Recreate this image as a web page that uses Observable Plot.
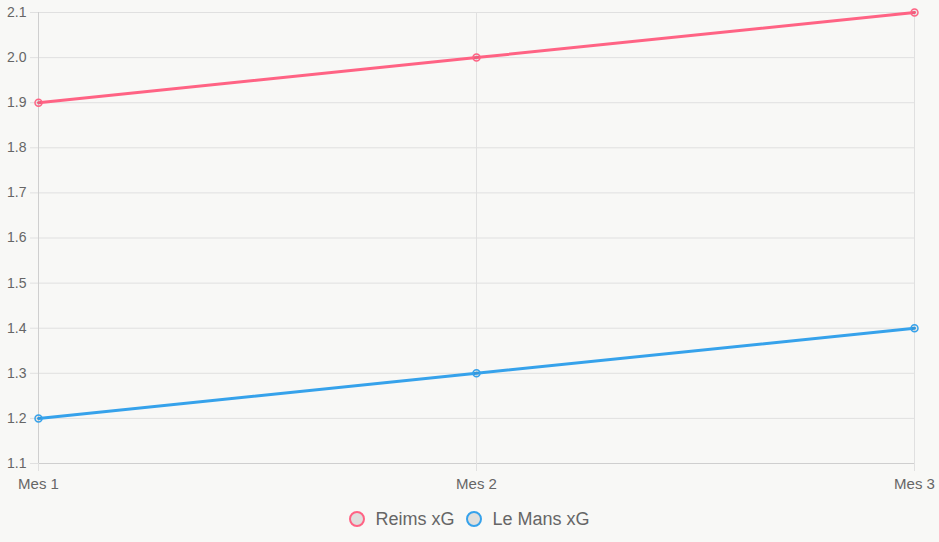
<!DOCTYPE html>
<html><head><meta charset="utf-8">
<script src="https://cdn.jsdelivr.net/npm/d3@7"></script>
<script src="https://cdn.jsdelivr.net/npm/@observablehq/plot@0.6"></script>
<style>
html,body{margin:0;padding:0;background:#f8f8f6;}
#chart svg{display:block;background:#f8f8f6;}
#chart svg text{font-family:"Liberation Sans",Arial,sans-serif;}
#legend{display:flex;justify-content:center;align-items:center;gap:12px;font-family:"Liberation Sans",Arial,sans-serif;font-size:18px;color:#666;height:30px;margin-top:9px;}
.item{display:flex;align-items:center;gap:10px;}
.sw{width:16px;height:16px;border-radius:50%;box-sizing:border-box;border:2px solid;}
</style></head>
<body>
<div id="chart"></div>
<div id="legend"></div>
<script>
const months = ["Mes 1", "Mes 2", "Mes 3"];
const reims = [1.9, 2.0, 2.1];
const leMans = [1.2, 1.3, 1.4];
const seriesNames = ["Reims xG", "Le Mans xG"];
const seriesColors = ["#ff6384", "#36a2eb"];
const yTicks = [1.1, 1.2, 1.3, 1.4, 1.5, 1.6, 1.7, 1.8, 1.9, 2.0, 2.1];

const data = [];
months.forEach((m, i) => {
  data.push({month: m, value: reims[i], series: seriesNames[0]});
  data.push({month: m, value: leMans[i], series: seriesNames[1]});
});

const chart = Plot.plot({
  width: 939,
  height: 495,
  marginLeft: 38,
  marginRight: 25,
  marginTop: 12,
  marginBottom: 32,
  style: {fontFamily: "'Liberation Sans', Arial, sans-serif", fontSize: "14px", color: "#666", background: "#f8f8f6"},
  x: {type: "point", domain: months, padding: 0, label: null},
  y: {domain: [1.1, 2.1], label: null},
  color: {domain: seriesNames, range: seriesColors},
  marks: [
    Plot.ruleY(yTicks, {stroke: "#e0e0e0", strokeWidth: 1}),
    Plot.ruleX(months, {stroke: "#e0e0e0", strokeWidth: 1}),
    Plot.ruleX([months[0]], {stroke: "#cfcfcf"}),
    Plot.ruleY([1.1], {stroke: "#cfcfcf"}),
    Plot.axisY({ticks: yTicks, tickFormat: d3.format(".1f"), tickSize: 8, tickPadding: 4, stroke: "#e0e0e0", fill: "#666", fontSize: 14}),
    Plot.axisX({tickSize: 8, tickPadding: 7, stroke: "#e0e0e0", fill: "#666", fontSize: 15}),
    Plot.line(data, {x: "month", y: "value", z: "series", stroke: "series", strokeWidth: 3}),
    Plot.dot(data, {x: "month", y: "value", stroke: "series", fill: "rgba(0,0,0,0.06)", r: 3.5, strokeWidth: 1.5})
  ]
});
document.getElementById("chart").appendChild(chart);

const legend = document.getElementById("legend");
seriesNames.forEach((n, i) => {
  const it = document.createElement("div");
  it.className = "item";
  const sw = document.createElement("span");
  sw.className = "sw";
  sw.style.borderColor = seriesColors[i];
  sw.style.background = "#dfdfdd";
  it.appendChild(sw);
  const t = document.createElement("span");
  t.textContent = n;
  it.appendChild(t);
  legend.appendChild(it);
});
</script>
</body></html>
